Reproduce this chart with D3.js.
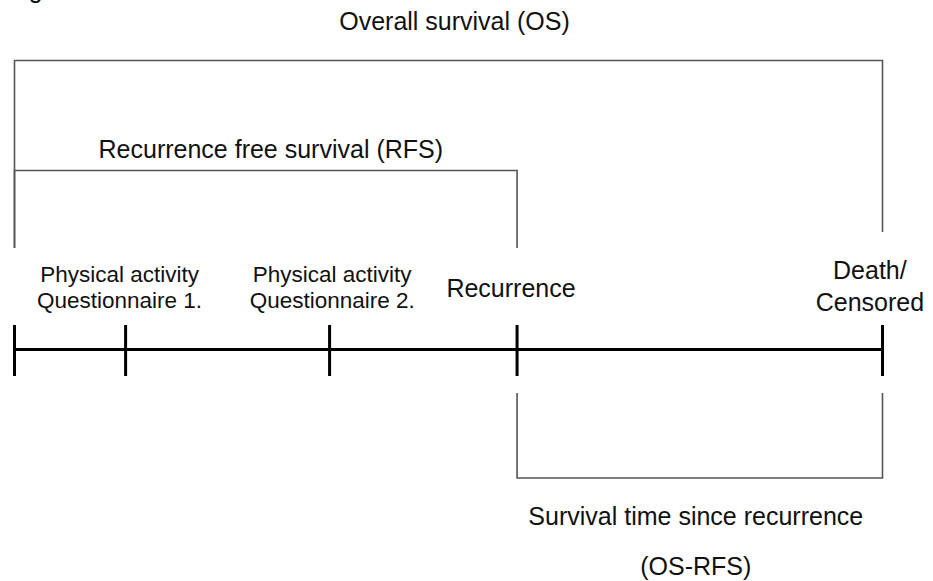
<!DOCTYPE html>
<html>
<head>
<meta charset="utf-8">
<script src="https://cdn.jsdelivr.net/npm/d3@7"></script>
<style>
  body { margin: 0; background: #fff; }
  text { font-family: "Liberation Sans", Arial, sans-serif; fill: #111; }
</style>
</head>
<body>
<div id="chart"></div>
<script>
// timeline events (relative time, 0 = start, 100 = death/censoring)
var eventTimes = [0, 12.8, 36.3, 57.9, 100];
var eventLabels = [
  [],
  ["Physical activity", "Questionnaire 1."],
  ["Physical activity", "Questionnaire 2."],
  ["Recurrence"],
  ["Death/", "Censored"]
];
var labelOffsets = [0, -0.7, 0.3, -0.7, -1.45];

// brackets: from, to, label lines
var bracketFrom = [0, 0, 57.9];
var bracketTo = [100, 57.9, 100];
var bracketNames = [
  ["Overall survival (OS)"],
  ["Recurrence free survival (RFS)"],
  ["Survival time since recurrence", "(OS-RFS)"]
];

var width = 933, height = 581;

var svg = d3.select("#chart").append("svg")
    .attr("width", width)
    .attr("height", height);

var x = d3.scaleLinear().domain([0, 100]).range([14.5, 882.5]);

// cut-off figure caption at the very top
svg.append("text")
    .attr("x", 8)
    .attr("y", -2.5)
    .attr("font-size", 25)
    .text("Fig");

// brackets
var bracketGeo = [
  {top: 60.5, bottom: [248, 232], labelY: [30], shift: 6},
  {top: 170.5, bottom: [248, 248], labelY: [158], shift: 5},
  {top: 478, bottom: [393, 393], labelY: [525, 575], shift: -4}
];

bracketFrom.forEach(function(f, i) {
  var g = bracketGeo[i];
  var x0 = x(f), x1 = x(bracketTo[i]);
  var path = d3.path();
  path.moveTo(x0, g.bottom[0]);
  path.lineTo(x0, g.top);
  path.lineTo(x1, g.top);
  path.lineTo(x1, g.bottom[1]);
  svg.append("path")
      .attr("d", path.toString())
      .attr("fill", "none")
      .attr("stroke", "#555")
      .attr("stroke-width", 1.6);

  bracketNames[i].forEach(function(t, j) {
    svg.append("text")
        .attr("x", (x0 + x1) / 2 + g.shift)
        .attr("y", g.labelY[j])
        .attr("text-anchor", "middle")
        .attr("font-size", 25)
        .text(t);
  });
});

// main time line
var lineY = 349.5;
svg.append("line")
    .attr("x1", x(0))
    .attr("x2", x(100))
    .attr("y1", lineY)
    .attr("y2", lineY)
    .attr("stroke", "#000")
    .attr("stroke-width", 3);

svg.selectAll(".tick")
    .data(eventTimes)
  .enter().append("line")
    .attr("class", "tick")
    .attr("x1", function(d) { return x(d); })
    .attr("x2", function(d) { return x(d); })
    .attr("y1", 325)
    .attr("y2", 376)
    .attr("stroke", "#000")
    .attr("stroke-width", 3);

// event labels
eventTimes.forEach(function(t, i) {
  var lines = eventLabels[i];
  if (!lines.length) return;
  var small = (i == 1 || i == 2);
  var baseY = lines.length == 1 ? 297 : (small ? 282 : 279);
  var step = small ? 26 : 32;
  lines.forEach(function(s, j) {
    svg.append("text")
        .attr("x", x(t + labelOffsets[i]))
        .attr("y", baseY + j * step)
        .attr("text-anchor", "middle")
        .attr("font-size", small ? 22.5 : 25)
        .text(s);
  });
});
</script>
</body>
</html>
